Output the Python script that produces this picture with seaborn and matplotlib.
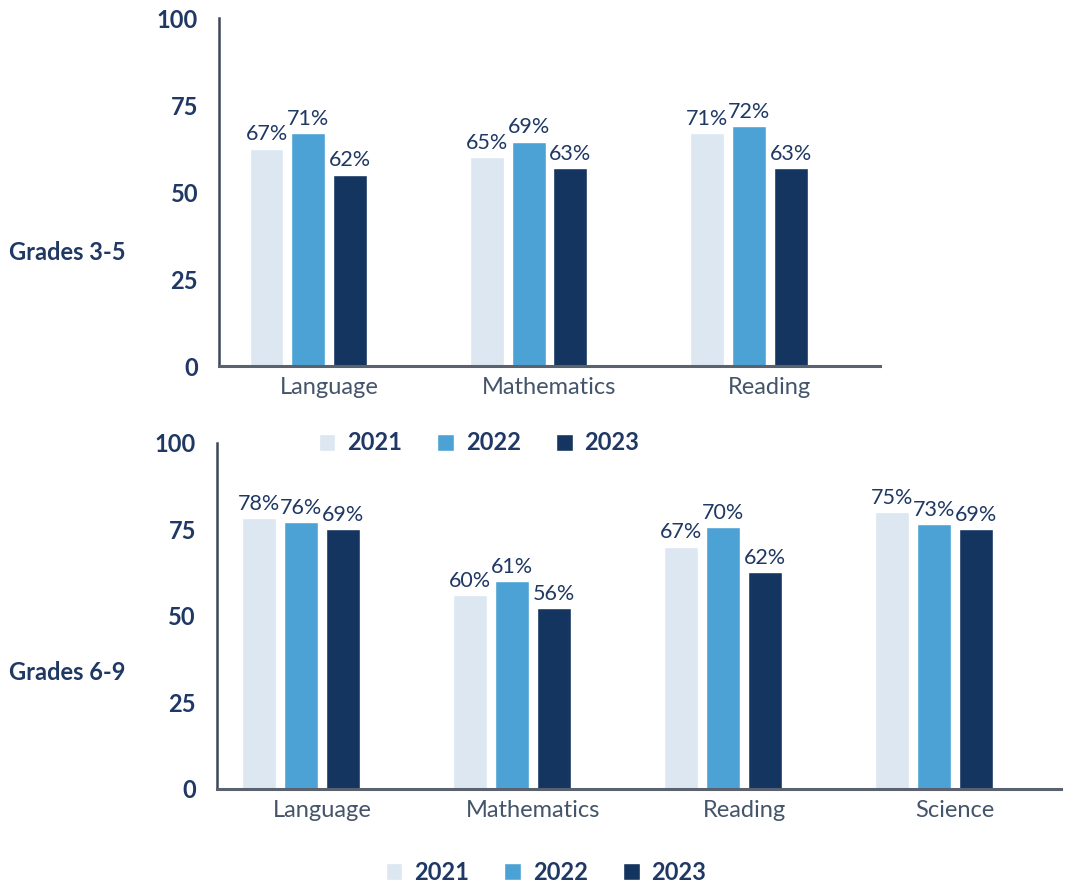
import pandas as pd
import matplotlib.pyplot as plt
import seaborn as sns

# Veri: ust panel (Grades 3-5)
years = ["2021", "2022", "2023"]
top_subjects = ["Language", "Mathematics", "Reading"]
top_2021 = [62.5, 60.0, 67.0]
top_2022 = [67.0, 64.5, 69.0]
top_2023 = [55.0, 57.0, 57.0]
top_lbl_2021 = ["67%", "65%", "71%"]
top_lbl_2022 = ["71%", "69%", "72%"]
top_lbl_2023 = ["62%", "63%", "63%"]

# Veri: alt panel (Grades 6-9)
bot_subjects = ["Language", "Mathematics", "Reading", "Science"]
bot_2021 = [78.3, 56.0, 70.0, 80.0]
bot_2022 = [77.0, 60.0, 75.7, 76.6]
bot_2023 = [75.0, 52.3, 62.7, 75.0]
bot_lbl_2021 = ["78%", "60%", "67%", "75%"]
bot_lbl_2022 = ["76%", "61%", "70%", "73%"]
bot_lbl_2023 = ["69%", "56%", "62%", "69%"]

yticks = [0, 25, 50, 75, 100]
colors = ["#DCE7F2", "#4DA2D5", "#14355F"]
navy = "#1F3864"
slate = "#44546A"

sns.set_theme(style="white")
plt.rcParams['font.family'] = ['Lato', 'DejaVu Sans']


def long_frame(subjects, series):
    rows = []
    for yr, vals in zip(years, series):
        for s, v in zip(subjects, vals):
            rows.append({"Subject": s, "Year": yr, "Value": v})
    # bos dorduncu seri: Excel'deki gibi grubu sola kaydirir
    for s in subjects:
        rows.append({"Subject": s, "Year": "pad", "Value": 0.0})
    return pd.DataFrame(rows)


def draw_panel(ax, subjects, series, labels, width):
    df = long_frame(subjects, series)
    sns.barplot(data=df, x="Subject", y="Value", hue="Year",
                hue_order=years + ["pad"], palette=colors + ["white"],
                order=subjects, width=width, gap=0.19, saturation=1,
                legend=True, ax=ax)
    for cont, lbl in zip(ax.containers[:3], labels):
        ax.bar_label(cont, labels=lbl, padding=3, fontsize=15.5, color=navy)
    ax.set_ylim(0, 100)
    ax.set_yticks(yticks)
    ax.set_yticklabels([str(t) for t in yticks], fontweight="bold", color=navy, fontsize=17)
    ax.tick_params(axis="y", length=0, pad=15)
    ax.tick_params(axis="x", length=0, pad=8, labelsize=17, labelcolor=slate)
    ax.set_xlabel("")
    ax.set_ylabel("")
    for side in ["top", "right"]:
        ax.spines[side].set_visible(False)
    ax.spines["left"].set_color("#3B4756")
    ax.spines["left"].set_linewidth(1.8)
    ax.spines["bottom"].set_color("#5A6270")
    ax.spines["bottom"].set_linewidth(2.2)
    handles, names = ax.get_legend_handles_labels()
    ax.get_legend().remove()
    return handles[:3], names[:3]


fig = plt.figure(figsize=(10.68, 8.83), dpi=100)
ax1 = fig.add_axes([0.205, 0.5855, 0.619, 0.394])
ax2 = fig.add_axes([0.203, 0.1065, 0.790, 0.392])

h1, n1 = draw_panel(ax1, top_subjects, [top_2021, top_2022, top_2023],
                    [top_lbl_2021, top_lbl_2022, top_lbl_2023], 0.757)
h2, n2 = draw_panel(ax2, bot_subjects, [bot_2021, bot_2022, bot_2023],
                    [bot_lbl_2021, bot_lbl_2022, bot_lbl_2023], 0.796)

leg_kw = dict(loc="center", ncol=3, frameon=False, handlelength=0.7, handleheight=0.7,
              handletextpad=0.5, columnspacing=1.5,
              prop={"weight": "bold", "size": 17})
leg1 = fig.legend(h1, n1, bbox_to_anchor=(479 / 1068, 1 - 443 / 883), **leg_kw)
leg2 = fig.legend(h2, n2, bbox_to_anchor=(546 / 1068, 1 - 872 / 883), **leg_kw)
for leg in (leg1, leg2):
    for t in leg.get_texts():
        t.set_color(navy)

fig.text(0.008, 1 - 252 / 883, "Grades 3-5", fontsize=17, fontweight="bold",
         color=navy, va="center", ha="left")
fig.text(0.008, 1 - 672 / 883, "Grades 6-9", fontsize=17, fontweight="bold",
         color=navy, va="center", ha="left")

fig.savefig("out.png", dpi=100)
